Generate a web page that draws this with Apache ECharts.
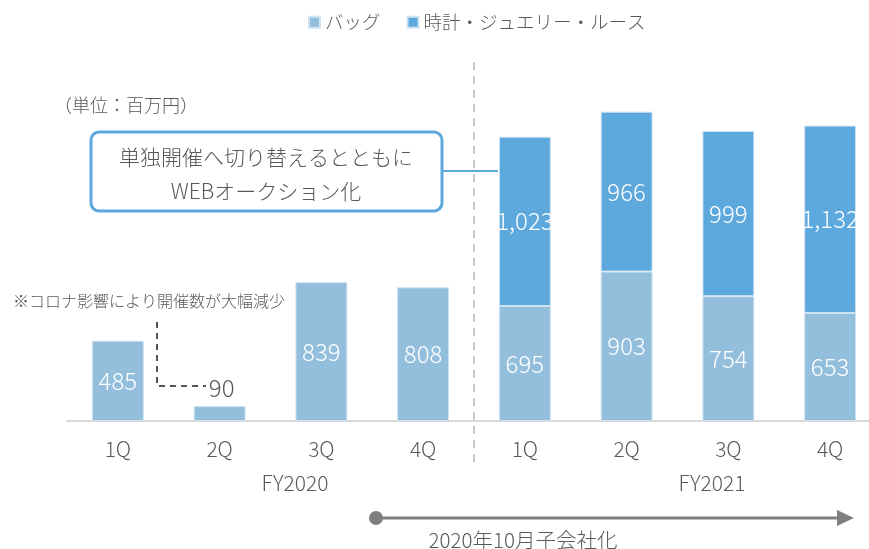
<!DOCTYPE html>
<html><head><meta charset="utf-8">
<script src="https://cdn.jsdelivr.net/npm/echarts@6/dist/echarts.min.js"></script>
<style>html,body{margin:0;padding:0;background:#fff;overflow:hidden;width:869px;height:549px}#c{width:885px;height:549px}</style>
</head><body><div id="c"></div>
<script>
const categories = ['1Q','2Q','3Q','4Q','1Q','2Q','3Q','4Q'];
const bagValues = [485, 90, 839, 808, 695, 903, 754, 653];
const watchValues = [null, null, null, null, 1023, 966, 999, 1132];
const seriesNames = ['バッグ', '時計・ジュエリー・ルース'];
const fyLabels = ['FY2020', 'FY2021'];

const FONT = '"Noto Sans CJK JP", "Noto Sans", sans-serif';
const TXT = '#595959';
const chart = echarts.init(document.getElementById('c'));
const fmt = v => (v == null ? '' : Number(v).toLocaleString('en-US'));

const bagData = bagValues.map((v, i) => i === 1 ? {
  value: v,
  label: { position: 'top', color: TXT, distance: 6, offset: [2, 0] }
} : v);

const labelStyle = { show: true, position: 'inside', color: '#fff', fontSize: 24, fontFamily: FONT, fontWeight: 300, formatter: p => fmt(p.value) };

chart.setOption({
  animation: false,
  textStyle: { fontFamily: FONT },
  legend: {
    top: 8, left: 303, itemWidth: 11, itemHeight: 11, itemGap: 26,
    icon: 'rect',
    textStyle: { color: TXT, fontSize: 18.5, fontFamily: FONT, fontWeight: 300 },
    data: seriesNames
  },
  grid: { left: 67, width: 814, top: 90, bottom: 128, containLabel: false },
  xAxis: {
    type: 'category', data: categories,
    axisLine: { lineStyle: { color: '#d9d9d9', width: 2 } },
    axisTick: { show: false },
    axisLabel: { color: TXT, fontSize: 21, margin: 18, fontFamily: FONT, fontWeight: 300 }
  },
  yAxis: { type: 'value', min: 0, max: 2000, show: false, splitLine: { show: false } },
  series: [
    {
      name: seriesNames[0], type: 'bar', stack: 's', barWidth: '51%',
      itemStyle: { color: '#93bfdd', borderColor: '#cfe3f2', borderWidth: 1 },
      label: labelStyle,
      data: bagData
    },
    {
      name: seriesNames[1], type: 'bar', stack: 's', barWidth: '51%',
      itemStyle: { color: '#5da8dc', borderColor: '#cfe3f2', borderWidth: 1 },
      label: labelStyle,
      data: watchValues
    }
  ]
});

const graphics = [];
graphics.push({ type: 'line', shape: { x1: 474, y1: 62, x2: 474, y2: 462 }, style: { stroke: '#c8c8c8', lineWidth: 2, lineDash: [8, 6] }, z: 0 });
graphics.push({ type: 'text', x: 54, y: 105, style: { text: '（単位：百万円）', fill: TXT, font: '300 18px ' + FONT, textVerticalAlign: 'middle' } });
graphics.push({ type: 'rect', shape: { x: 91, y: 132, width: 351, height: 79, r: 8 }, style: { fill: '#fff', stroke: '#5da8dc', lineWidth: 3 } });
graphics.push({ type: 'text', x: 266, y: 157, style: { text: '単独開催へ切り替えるとともに', fill: TXT, font: '300 21px ' + FONT, textAlign: 'center', textVerticalAlign: 'middle' } });
graphics.push({ type: 'text', x: 266, y: 191, style: { text: 'WEBオークション化', fill: TXT, font: '300 21px ' + FONT, textAlign: 'center', textVerticalAlign: 'middle' } });
graphics.push({ type: 'line', shape: { x1: 443, y1: 171, x2: 498, y2: 171 }, style: { stroke: '#5da8dc', lineWidth: 2 } });
graphics.push({ type: 'text', x: 13, y: 301, style: { text: '※コロナ影響により開催数が大幅減少', fill: TXT, font: '300 16px ' + FONT, textVerticalAlign: 'middle' } });
graphics.push({ type: 'polyline', shape: { points: [[157, 322], [157, 386], [206, 386]] }, style: { stroke: '#555', lineWidth: 2, lineDash: [6, 5], fill: null } });
graphics.push({ type: 'text', x: 295, y: 483, style: { text: fyLabels[0], fill: TXT, font: '300 21px ' + FONT, textAlign: 'center', textVerticalAlign: 'middle' } });
graphics.push({ type: 'text', x: 712, y: 483, style: { text: fyLabels[1], fill: TXT, font: '300 21px ' + FONT, textAlign: 'center', textVerticalAlign: 'middle' } });
graphics.push({ type: 'line', shape: { x1: 376, y1: 518, x2: 840, y2: 518 }, style: { stroke: '#7f7f7f', lineWidth: 3 } });
graphics.push({ type: 'circle', shape: { cx: 376, cy: 518, r: 7 }, style: { fill: '#7f7f7f' } });
graphics.push({ type: 'polygon', shape: { points: [[837, 510], [854, 518], [837, 526]] }, style: { fill: '#7f7f7f' } });
graphics.push({ type: 'text', x: 523, y: 540, style: { text: '2020年10月子会社化', fill: TXT, font: '300 20.5px ' + FONT, textAlign: 'center', textVerticalAlign: 'middle' } });

chart.setOption({ graphic: graphics });
</script></body></html>
